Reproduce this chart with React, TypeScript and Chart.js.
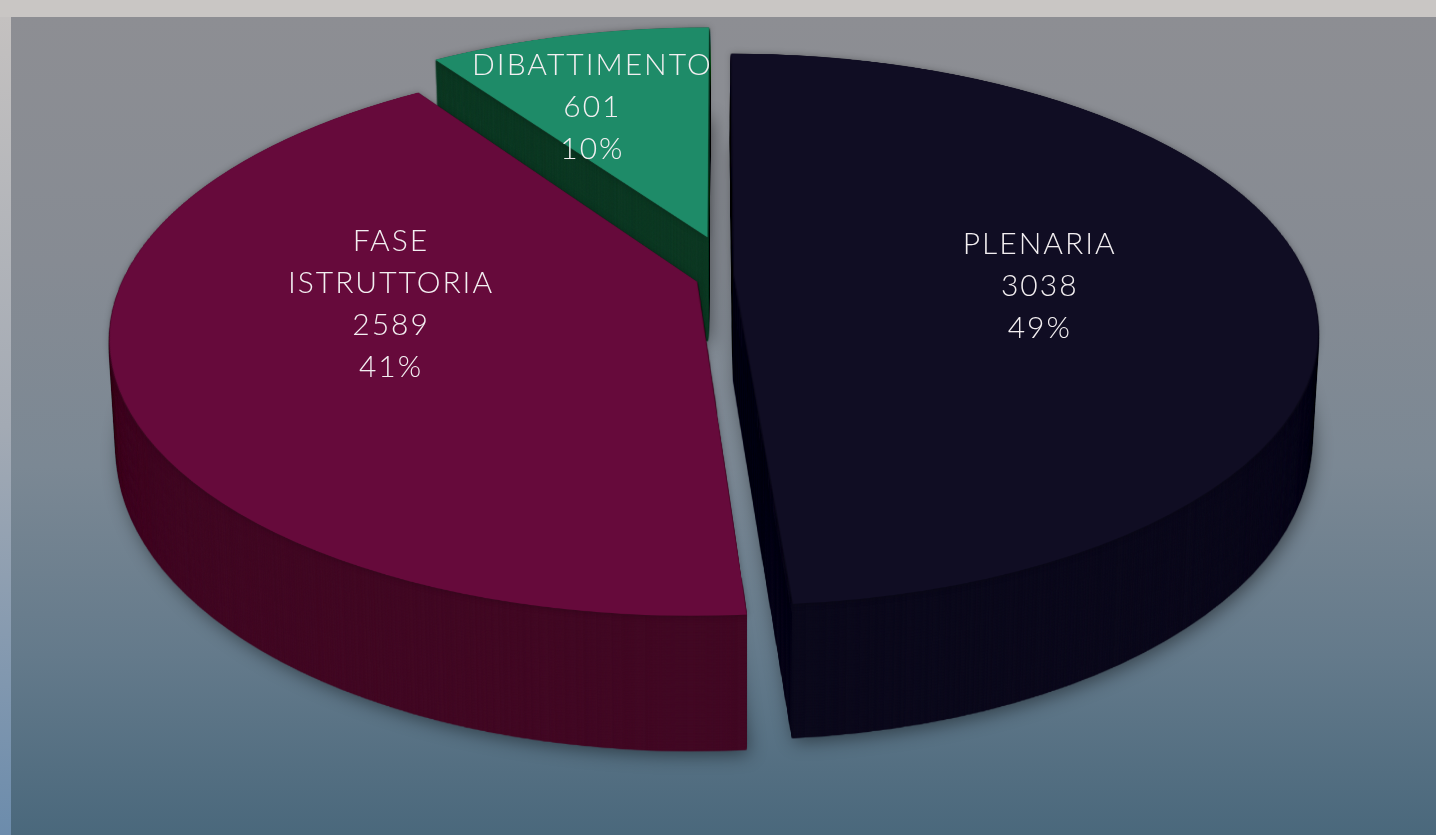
import React, { useEffect, useRef } from 'react';
import { Chart, registerables } from 'chart.js';

Chart.register(...registerables);

// ---- data ----
const categories = ['PLENARIA', 'FASE ISTRUTTORIA', 'DIBATTIMENTO'];
const labelLines = [['PLENARIA'], ['FASE', 'ISTRUTTORIA'], ['DIBATTIMENTO']];
const values = [3038, 2589, 601];
const percentLabels = ['49%', '41%', '10%'];

// ---- style ----
const topColors = ['#100d23', '#660a3b', '#1e8b68'];
const sideColors = ['#0c0a1c', '#420924', '#0f3a25'];
// explosion per slice in flat normalised units [right, back]
const explode = [
  [0.03, 0.001],
  [-0.035, -0.025],
  [-0.017, 0.146],
];
const labelNudge = [
  [21, 15],
  [-25, -25],
  [-40, -22],
];

// perspective view of the flat pie
const X0 = 717;
const Y0 = 275;
const SR = 572;
const TR = 265;
const Q = 0.198;
// extrusion
const LAYERS = 220;
const DEPTH_MID = 112;
const DEPTH_SLOPE = 0.082;
const DEPTH_YREF = 330;
const X_SHRINK = 0.012;

// offscreen flat pie
const FLAT = 1800;
const RF = 700;
const CF = 900;

function mk(w: number, h: number) {
  const c = document.createElement('canvas');
  c.width = w;
  c.height = h;
  return c;
}

function project(nu: number, nt: number) {
  const d = 1 + Q * nt;
  return { x: X0 + (SR * nu) / d, y: Y0 - (TR * nt) / d };
}

function warp(src: HTMLCanvasElement, dctx: CanvasRenderingContext2D, H: number) {
  dctx.imageSmoothingEnabled = true;
  (dctx as any).imageSmoothingQuality = 'high';
  const ntOf = (ys: number) => {
    const h = Y0 - ys;
    return h / (TR - Q * h);
  };
  for (let ys = 0; ys < H; ys++) {
    const a = ntOf(ys);
    const b = ntOf(ys + 1);
    const m = ntOf(ys + 0.5);
    const denom = 1 + Q * m;
    if (denom <= 0.05) continue;
    const sy0 = CF - a * RF;
    const sy1 = CF - b * RF;
    if (sy0 < 0 || sy1 > FLAT) continue;
    const sc = SR / (denom * RF);
    dctx.drawImage(src, 0, sy0, FLAT, Math.max(0.5, sy1 - sy0), X0 - sc * CF, ys, FLAT * sc, 1);
  }
}

function drawBackground(ctx: CanvasRenderingContext2D, W: number, H: number) {
  ctx.fillStyle = '#c9c6c4';
  ctx.fillRect(0, 0, W, H);
  const g = ctx.createLinearGradient(0, 17, 0, H);
  g.addColorStop(0, '#8d8e93');
  g.addColorStop(0.3, '#868b93');
  g.addColorStop(0.55, '#7b8894');
  g.addColorStop(0.78, '#647a8b');
  g.addColorStop(1, '#4a687c');
  ctx.fillStyle = g;
  ctx.fillRect(11, 17, W - 11, H - 17);
  const l = ctx.createLinearGradient(0, 17, 0, H);
  l.addColorStop(0, '#c4c1c0');
  l.addColorStop(0.5, '#a3aab4');
  l.addColorStop(1, '#6c8cac');
  ctx.fillStyle = l;
  ctx.fillRect(0, 17, 11, H - 17);
}

const pie3d = {
  id: 'pie3d',
  beforeDatasetsDraw(chart: any) {
    const ctx: CanvasRenderingContext2D = chart.ctx;
    const W = chart.width;
    const H = chart.height;
    drawBackground(ctx, W, H);
    const meta = chart.getDatasetMeta(0);
    const flatTop = mk(FLAT, FLAT);
    const flatSide = mk(FLAT, FLAT);
    const tmp = mk(FLAT, FLAT);
    const ft = flatTop.getContext('2d')!;
    const fs = flatSide.getContext('2d')!;
    const tc = tmp.getContext('2d')!;
    meta.data.forEach((el: any, i: number) => {
      const s = RF / el.outerRadius;
      const [du, dt] = explode[i];
      const tx = CF + du * RF - s * el.x;
      const ty = CF - dt * RF - s * el.y;
      ft.setTransform(s, 0, 0, s, tx, ty);
      el.draw(ft);
      tc.setTransform(1, 0, 0, 1, 0, 0);
      tc.globalCompositeOperation = 'source-over';
      tc.clearRect(0, 0, FLAT, FLAT);
      tc.setTransform(s, 0, 0, s, tx, ty);
      el.draw(tc);
      tc.setTransform(1, 0, 0, 1, 0, 0);
      tc.globalCompositeOperation = 'source-in';
      tc.fillStyle = sideColors[i];
      tc.fillRect(0, 0, FLAT, FLAT);
      fs.drawImage(tmp, 0, 0);
    });
    const topImg = mk(W, H);
    const sideImg = mk(W, H);
    warp(flatTop, topImg.getContext('2d')!, H);
    warp(flatSide, sideImg.getContext('2d')!, H);

    ctx.save();
    for (let k = LAYERS; k >= 1; k--) {
      const f = k / LAYERS;
      const sy = 1 + DEPTH_SLOPE * f;
      const dy = DEPTH_MID * f - DEPTH_SLOPE * f * DEPTH_YREF;
      const sx = 1 - X_SHRINK * f;
      const dx = X0 * X_SHRINK * f;
      if (k === LAYERS) {
        ctx.shadowColor = 'rgba(0,0,0,0.45)';
        ctx.shadowBlur = 18;
        ctx.shadowOffsetX = 3;
        ctx.shadowOffsetY = 4;
      } else {
        ctx.shadowColor = 'rgba(0,0,0,0)';
        ctx.shadowBlur = 0;
        ctx.shadowOffsetX = 0;
        ctx.shadowOffsetY = 0;
      }
      ctx.drawImage(sideImg, dx, dy, W * sx, H * sy);
    }
    ctx.shadowColor = 'rgba(0,0,0,0.3)';
    ctx.shadowBlur = 6;
    ctx.shadowOffsetX = 0;
    ctx.shadowOffsetY = 0;
    ctx.drawImage(topImg, 0, 0);
    ctx.restore();
    return false;
  },
  afterDraw(chart: any) {
    const ctx: CanvasRenderingContext2D = chart.ctx;
    const meta = chart.getDatasetMeta(0);
    ctx.save();
    ctx.fillStyle = '#f3eff1';
    ctx.textAlign = 'center';
    ctx.textBaseline = 'alphabetic';
    ctx.font = '300 30px Lato, "Open Sans", sans-serif';
    (ctx as any).letterSpacing = '2px';
    meta.data.forEach((el: any, i: number) => {
      const mid = (el.startAngle + el.endAngle) / 2;
      const [du, dt] = explode[i];
      const p = project(0.5 * Math.cos(mid) + du, -0.5 * Math.sin(mid) + dt);
      const cx = p.x + labelNudge[i][0];
      const cy = p.y + labelNudge[i][1];
      const lines = [...labelLines[i], String(values[i]), percentLabels[i]];
      const lh = 42;
      const first = cy - ((lines.length - 1) * lh) / 2 + 11;
      lines.forEach((t, j) => ctx.fillText(t, cx, first + j * lh));
    });
    ctx.restore();
  },
};

export default function App() {
  const ref = useRef<HTMLCanvasElement>(null);
  useEffect(() => {
    document.body.style.margin = '0';
    const chart = new Chart(ref.current as HTMLCanvasElement, {
      type: 'pie',
      data: {
        labels: categories,
        datasets: [
          {
            data: values,
            backgroundColor: topColors,
            borderWidth: 0,
            offset: 0,
          },
        ],
      },
      options: {
        responsive: false,
        animation: false,
        events: [],
        plugins: {
          legend: { display: false },
          tooltip: { enabled: false },
        },
      },
      plugins: [pie3d as any],
    });
    return () => chart.destroy();
  }, []);
  return <canvas ref={ref} width={1436} height={835} style={{ display: 'block' }} />;
}
